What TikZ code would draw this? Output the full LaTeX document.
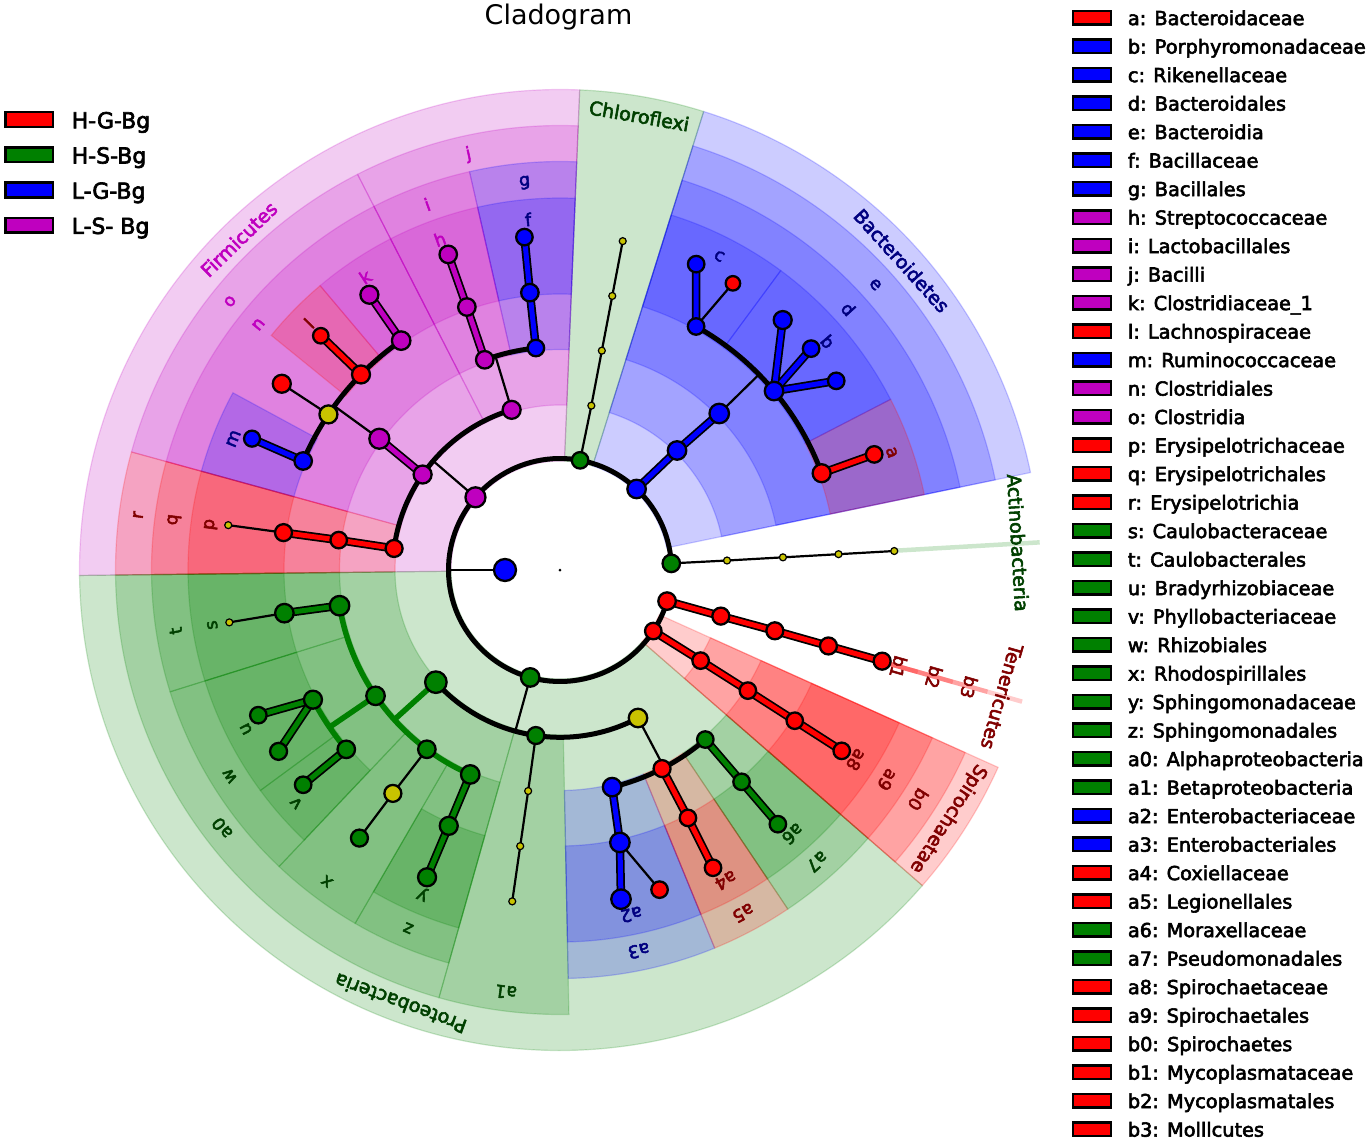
\documentclass[tikz,border=0pt]{standalone}
\usepackage{fontspec}
\setmainfont{DejaVu Sans}
\newfontfamily\fbf{DejaVu Sans}[FakeBold=3]
\definecolor{cR}{RGB}{255,0,0}
\definecolor{cG}{RGB}{0,128,0}
\definecolor{cB}{RGB}{0,0,255}
\definecolor{cM}{RGB}{191,0,191}
\definecolor{cY}{RGB}{200,195,0}
\definecolor{lR}{RGB}{128,0,0}
\definecolor{lG}{RGB}{0,64,0}
\definecolor{lB}{RGB}{0,0,128}
\definecolor{lM}{RGB}{191,0,191}
\pgfdeclarelayer{wedges}
\pgfdeclarelayer{edges}
\pgfsetlayers{wedges,edges,main}
% wedge: color, angle1, angle2, rin, rout
\newcommand{\wdg}[5]{\path[fill=#1, fill opacity=0.2, draw=#1, draw opacity=0.2, line width=1.2pt] (#2:#4pt) arc[start angle=#2, end angle=#3, radius=#4pt] -- (#3:#5pt) arc[start angle=#3, end angle=#2, radius=#5pt] -- cycle;}
\newcommand{\stripX}[4]{\draw[draw=#1, draw opacity=0.2, line width=4.5pt] (#2:#3pt) -- (#2:#4pt);}
% tree node: name, angle, radius, colour, size
\newcommand{\mkN}[5]{\node[nd=#4, minimum size=#5pt] (#1) at (#2:#3pt) {};}
\newcommand{\mkY}[3]{\node[ydot] (#1) at (#2:#3pt) {};}
% label: name, angle, radius, colour, text
\newcommand{\lbl}[5]{\node[lab=#4, rotate=#2-90] (#1) at (#2:#3pt) {#5};}
\newcommand{\phl}[5]{\node[phy=#4, rotate=#2-90] (#1) at (#2:#3pt) {#5};}
\begin{document}
\begin{tikzpicture}[x=1pt,y=1pt,
  nd/.style={circle, draw=black, line width=2.3pt, inner sep=0pt, fill=#1, minimum size=17pt},
  ydot/.style={circle, draw=black, line width=1.2pt, inner sep=0pt, fill=cY, minimum size=7pt},
  thinE/.style={draw=black, line width=2.2pt},
  arcE/.style={draw=black, line width=5pt},
  outE/.style={draw=black, line width=8.5pt},
  inE/.style={draw=#1, line width=5pt},
  garc/.style={draw=cG, line width=5.5pt},
  lab/.style={text=#1, font=\fbf\fontsize{17.5}{20}\selectfont, inner sep=0pt},
  phy/.style={text=#1, font=\fbf\fontsize{19}{22}\selectfont, inner sep=0pt},
  patch/.style={draw=black, line width=2.5pt, fill=#1, inner sep=0pt}
]
\useasboundingbox (-560,-571) rectangle (808,570);

%================ shaded wedges
\begin{pgfonlayer}{wedges}
% phylum level
\wdg{cB}{11.7}{72.6}{109}{480.5}
\wdg{cG}{72.6}{87.65}{109}{480.5}
\wdg{cM}{87.65}{180.65}{109}{480.5}
\wdg{cG}{180.65}{318.95}{109}{480.5}
\wdg{cR}{318.95}{335.75}{109}{480.5}
% class level
\wdg{cB}{11.7}{72.6}{165}{444.5}
\wdg{cM}{87.65}{117.1}{165}{444.5}
\wdg{cM}{117.1}{164.6}{165}{444.5}
\wdg{cR}{164.6}{180.65}{165}{444.5}
\wdg{cG}{180.65}{254.2}{165}{444.5}
\wdg{cG}{254.2}{271.15}{165}{444.5}
\wdg{cR}{318.95}{335.75}{165}{444.5}
% order level
\wdg{cB}{11.7}{72.6}{220.5}{408.5}
\wdg{cB}{87.65}{102.8}{220.5}{408.5}
\wdg{cM}{102.8}{117.1}{220.5}{408.5}
\wdg{cM}{117.1}{164.6}{220.5}{408.5}
\wdg{cR}{164.6}{180.65}{220.5}{408.5}
\wdg{cG}{180.65}{197.35}{220.5}{408.5}
\wdg{cG}{197.35}{226.55}{220.5}{408.5}
\wdg{cG}{226.55}{239.9}{220.5}{408.5}
\wdg{cG}{239.9}{254.2}{220.5}{408.5}
\wdg{cB}{271.15}{292.25}{220.5}{408.5}
\wdg{cR}{292.25}{303.9}{220.5}{408.5}
\wdg{cG}{303.9}{318.95}{220.5}{408.5}
\wdg{cR}{318.95}{335.75}{220.5}{408.5}
% family level
\wdg{cR}{11.7}{27.3}{276}{372}
\wdg{cB}{27.3}{53.6}{276}{372}
\wdg{cB}{53.6}{72.6}{276}{372}
\wdg{cB}{87.65}{102.8}{276}{372}
\wdg{cM}{102.8}{117.1}{276}{372}
\wdg{cM}{117.1}{130.15}{276}{372}
\wdg{cR}{130.15}{140.9}{276}{372}
\wdg{cB}{151.55}{164.6}{276}{372}
\wdg{cR}{164.6}{180.65}{276}{372}
\wdg{cG}{180.65}{197.35}{276}{372}
\wdg{cG}{197.35}{216.35}{276}{372}
\wdg{cG}{216.35}{226.55}{276}{372}
\wdg{cG}{239.9}{254.2}{276}{372}
\wdg{cB}{271.15}{292.25}{276}{372}
\wdg{cR}{292.25}{303.9}{276}{372}
\wdg{cG}{303.9}{318.95}{276}{372}
\wdg{cR}{318.95}{335.75}{276}{372}
% degenerate end clades
\stripX{cG}{3.3}{335}{480.5}
\stripX{cR}{344.1}{340}{480.5}
\stripX{cR}{344.1}{340}{444.5}
\stripX{cR}{344.1}{340}{408.5}
\stripX{cR}{344.1}{340}{372}
\end{pgfonlayer}

%================ tree nodes
\node[circle, fill=black, inner sep=0pt, minimum size=3pt] (root) at (0,0) {};
\mkN{K}{180}{55}{cB}{22}
% phyla
\mkN{PAct}{3.4}{111.5}{cG}{17.5}
\mkN{PBac}{46.6}{111.5}{cB}{18.5}
\mkN{PChl}{79.6}{111.5}{cG}{16.5}
\mkN{PFir}{139.3}{111.5}{cM}{20}
\mkN{PPro}{254.5}{111.5}{cG}{18.5}
\mkN{PSpi}{326.8}{111.5}{cR}{16.5}
\mkN{PTen}{343.8}{111.5}{cR}{17.5}
% Actinobacteria / Chloroflexi chains
\mkY{NA3}{3.25}{167.3}\mkY{NA4}{3.25}{223.3}\mkY{NA5}{3.25}{279}\mkY{NA6}{3.25}{334.8}
\mkY{NC3}{79.2}{167.3}\mkY{NC4}{79.2}{223.3}\mkY{NC5}{79.2}{279}\mkY{NC6}{79.2}{334.8}
% Bacteroidetes
\mkN{Ne}{45.6}{167.3}{cB}{18.5}
\mkN{Nd}{44.5}{223.3}{cB}{19.5}
\mkN{Nc}{60.8}{279}{cB}{16.5}
\mkN{Ncg1}{66.0}{334.8}{cB}{16.5}
\mkN{Ncg2}{58.9}{334.8}{cR}{14.5}
\mkN{Nb}{39.9}{279}{cB}{18.5}
\mkN{Nbg1}{48.3}{334.8}{cB}{18}
\mkN{Nbg2}{41.4}{334.8}{cB}{16.5}
\mkN{Nbg3}{34.4}{334.8}{cB}{16.5}
\mkN{Na}{20.3}{279}{cR}{18}
\mkN{Nag}{20.2}{334.8}{cR}{16.5}
% Firmicutes
\mkN{Nj}{106.8}{167.3}{cM}{18}
\mkN{No}{145.2}{167.3}{cM}{18}
\mkN{Nr}{172.6}{167.3}{cR}{17}
\mkN{Ni}{109.7}{223.3}{cM}{17.5}
\mkN{Ng}{96.2}{223.3}{cB}{16.5}
\mkN{Nh}{109.5}{279}{cM}{17.5}
\mkN{Nhg}{109.5}{334.8}{cM}{17.5}
\mkN{Nf}{96.2}{279}{cB}{17.5}
\mkN{Nfg}{96.1}{334.8}{cB}{16.5}
\mkN{Nn}{144}{223.3}{cM}{20}
\mkN{Nm}{157}{279}{cB}{17.5}
\mkN{Nmg}{156.9}{334.8}{cB}{16}
\mkN{NyF}{146.1}{279}{cY}{18}
\mkN{NyFg}{146.2}{334.8}{cR}{18}
\mkN{Nl}{135.5}{279}{cR}{18}
\mkN{Nlg}{135.6}{334.8}{cR}{15.5}
\mkN{Nk}{124.7}{279}{cM}{18.5}
\mkN{Nkg}{124.7}{334.8}{cM}{18}
\mkN{Nq}{172.3}{223.3}{cR}{16.5}
\mkN{Np}{172.3}{279}{cR}{17}
\mkY{Npg}{172.3}{334.8}
% Proteobacteria
\mkN{Na0}{222.1}{167.3}{cG}{21.5}
\mkN{Na1}{261.7}{167.3}{cG}{17}
\mkN{NGam}{297.8}{167.3}{cY}{18.5}
\mkN{Nt}{189.2}{223.3}{cG}{19.5}
\mkN{Ns}{188.9}{279}{cG}{18.5}
\mkY{Nsg}{189}{334.8}
\mkN{Nw}{214.3}{223.3}{cG}{18.5}
\mkN{Nu}{207.7}{279}{cG}{18}
\mkN{Nug1}{205.7}{334.8}{cG}{16.5}
\mkN{Nug2}{212.8}{334.8}{cG}{17}
\mkN{Nv}{220}{279}{cG}{17.5}
\mkN{Nvg}{219.9}{334.8}{cG}{16.5}
\mkN{Nx}{233.4}{223.3}{cG}{17.5}
\mkN{NxF}{233.2}{279}{cY}{17}
\mkN{Nxg}{233.2}{334.8}{cG}{17}
\mkN{Nz}{246.3}{223.3}{cG}{18.5}
\mkN{Ny}{246.5}{279}{cG}{18}
\mkN{Nyg}{246.6}{334.8}{cG}{18}
\mkY{NB4}{261.8}{223.3}\mkY{NB5}{261.8}{279}\mkY{NB6}{261.8}{334.8}
\mkN{Na3}{283.5}{223.3}{cB}{18.5}
\mkN{Na2}{282.4}{279}{cB}{19.5}
\mkN{Na2g1}{280.5}{334.8}{cB}{19.5}
\mkN{Na2g2}{287.3}{334.8}{cR}{16.5}
\mkN{Na5}{297.2}{223.3}{cR}{17}
\mkN{Na4}{297.3}{279}{cR}{16.5}
\mkN{Na4g}{297.2}{334.8}{cR}{16.5}
\mkN{Na7}{310.6}{223.3}{cG}{16.5}
\mkN{Na6}{310.6}{279}{cG}{16.5}
\mkN{Na6g}{310.6}{334.8}{cG}{16.5}
% Spirochaetae
\mkN{Nb0}{327.2}{167.3}{cR}{16.5}
\mkN{Na9}{327.3}{223.3}{cR}{16.5}
\mkN{Na8}{327.3}{279}{cR}{16.5}
\mkN{Na8g}{327.3}{334.8}{cR}{16.5}
% Tenericutes
\mkN{Nb3}{344.0}{167.3}{cR}{17}
\mkN{Nb2}{344.2}{223.3}{cR}{17}
\mkN{Nb1}{344.2}{279}{cR}{17}
\mkN{Nb1g}{344.2}{334.8}{cR}{17}

%================ connectors
\begin{pgfonlayer}{edges}
% kingdom and phylum ring
\draw[thinE] (K.center) -- (180:111.5pt);
\draw[arcE] (PAct.center) arc[start angle=3.4, end angle=343.8, radius=111.5pt];
% radial + arc groups
\draw[thinE] (Nd.center) -- (44.5:279pt);
\draw[arcE] (Na.center) arc[start angle=20.3, end angle=60.8, radius=279pt];
\draw[thinE] (PFir.center) -- (139.3:167.3pt);
\draw[arcE] (Nj.center) arc[start angle=106.8, end angle=172.6, radius=167.3pt];
\draw[thinE] (Nj.center) -- (106.8:223.3pt);
\draw[arcE] (Ng.center) arc[start angle=96.2, end angle=109.7, radius=223.3pt];
\draw[thinE] (Nn.center) -- (144:279pt);
\draw[arcE] (Nk.center) arc[start angle=124.7, end angle=157, radius=279pt];
\draw[thinE] (PPro.center) -- (254.5:167.3pt);
\draw[arcE] (Na0.center) arc[start angle=222.1, end angle=297.8, radius=167.3pt];
\draw[garc] (Na0.center) -- (222.1:223.3pt);
\draw[garc] (Nt.center) arc[start angle=189.2, end angle=246.3, radius=223.3pt];
\draw[garc] (Nw.center) -- (214.3:279pt);
\draw[garc] (Nu.center) arc[start angle=207.7, end angle=220, radius=279pt];
\draw[thinE] (NGam.center) -- (297.8:223.3pt);
\draw[arcE] (Na3.center) arc[start angle=283.5, end angle=310.6, radius=223.3pt];
% thin black connectors
\foreach \u/\v in {PAct/NA3, NA3/NA4, NA4/NA5, NA5/NA6, PChl/NC3, NC3/NC4, NC4/NC5, NC5/NC6,
  Nc/Ncg2, NyF/NyFg, Np/Npg, Ns/Nsg, Nx/NxF, NxF/Nxg, Na1/NB4, NB4/NB5, NB5/NB6, Na2/Na2g2}
  {\draw[thinE] (\u.center) -- (\v.center);}
% thick coloured connectors (outline first, then colour)
\foreach \c/\u/\v in {cB/PBac/Ne, cB/Ne/Nd, cB/Nc/Ncg1, cB/Nb/Nbg1, cB/Nb/Nbg2, cB/Nb/Nbg3, cR/Na/Nag,
  cM/Ni/Nh, cM/Nh/Nhg, cB/Ng/Nf, cB/Nf/Nfg, cM/No/Nn, cB/Nm/Nmg, cR/Nl/Nlg, cM/Nk/Nkg, cR/Nr/Nq, cR/Nq/Np,
  cG/Nt/Ns, cG/Nu/Nug1, cG/Nu/Nug2, cG/Nv/Nvg, cG/Nz/Ny, cG/Ny/Nyg,
  cB/Na3/Na2, cB/Na2/Na2g1, cR/Na5/Na4, cR/Na4/Na4g, cG/Na7/Na6, cG/Na6/Na6g,
  cR/PSpi/Nb0, cR/Nb0/Na9, cR/Na9/Na8, cR/Na8/Na8g, cR/PTen/Nb3, cR/Nb3/Nb2, cR/Nb2/Nb1, cR/Nb1/Nb1g}
  {\draw[outE] (\u.center) -- (\v.center);}
\foreach \c/\u/\v in {cB/PBac/Ne, cB/Ne/Nd, cB/Nc/Ncg1, cB/Nb/Nbg1, cB/Nb/Nbg2, cB/Nb/Nbg3, cR/Na/Nag,
  cM/Ni/Nh, cM/Nh/Nhg, cB/Ng/Nf, cB/Nf/Nfg, cM/No/Nn, cB/Nm/Nmg, cR/Nl/Nlg, cM/Nk/Nkg, cR/Nr/Nq, cR/Nq/Np,
  cG/Nt/Ns, cG/Nu/Nug1, cG/Nu/Nug2, cG/Nv/Nvg, cG/Nz/Ny, cG/Ny/Nyg,
  cB/Na3/Na2, cB/Na2/Na2g1, cR/Na5/Na4, cR/Na4/Na4g, cG/Na7/Na6, cG/Na6/Na6g,
  cR/PSpi/Nb0, cR/Nb0/Na9, cR/Na9/Na8, cR/Na8/Na8g, cR/PTen/Nb3, cR/Nb3/Nb2, cR/Nb2/Nb1, cR/Nb1/Nb1g}
  {\draw[inE=\c] (\u.center) -- (\v.center);}
\end{pgfonlayer}

%================ clade labels
% family ring
\lbl{La}{19.5}{352}{lR}{a}
\lbl{Lb}{40.45}{352}{lB}{b}
\lbl{Lc}{63.1}{352}{lB}{c}
\lbl{Lf}{95.2}{352}{lB}{f}
\lbl{Lh}{109.95}{352}{lM}{h}
\lbl{Lk}{123.6}{352}{lM}{k}
\lbl{Ll}{135.5}{352}{lR}{l}
\lbl{Lm}{158.1}{352}{lB}{m}
\lbl{Lp}{172.6}{352}{lR}{p}
\lbl{Ls}{189}{352}{lG}{s}
\lbl{Lu}{206.85}{352}{lG}{u}
\lbl{Lv}{221.45}{352}{lG}{v}
\lbl{Ly}{247.05}{352}{lG}{y}
\lbl{La2}{281.7}{352}{lB}{a2}
\lbl{La4}{298.1}{352}{lR}{a4}
\lbl{La6}{311.4}{352}{lG}{a6}
\lbl{La8}{327.35}{352}{lR}{a8}
\lbl{Lb1}{344.0}{352}{lR}{b1}
% order ring
\lbl{Ld}{42.15}{389}{lB}{d}
\lbl{Lg}{95.2}{389}{lB}{g}
\lbl{Li}{109.95}{389}{lM}{i}
\lbl{Ln}{140.85}{389}{lM}{n}
\lbl{Lq}{172.6}{389}{lR}{q}
\lbl{Lt}{189}{389}{lG}{t}
\lbl{Lw}{211.95}{389}{lG}{w}
\lbl{Lx}{233.2}{389}{lG}{x}
\lbl{Lz}{247.05}{389}{lG}{z}
\lbl{La3}{281.7}{389}{lB}{a3}
\lbl{La5}{298.1}{389}{lR}{a5}
\lbl{La7}{311.4}{389}{lG}{a7}
\lbl{La9}{327.35}{389}{lR}{a9}
\lbl{Lb2}{344.0}{389}{lR}{b2}
% class ring
\lbl{Le}{42.15}{425.5}{lB}{e}
\lbl{Lj}{102.4}{425.5}{lM}{j}
\lbl{Lo}{140.85}{425.5}{lM}{o}
\lbl{Lr}{172.6}{425.5}{lR}{r}
\lbl{La0}{217.4}{425.5}{lG}{a0}
\lbl{La1}{262.7}{425.5}{lG}{a1}
\lbl{Lb0}{327.35}{425.5}{lR}{b0}
\lbl{Lb3}{344.0}{425.5}{lR}{b3}
% phylum ring
\phl{PLAct}{3.4}{459}{lG}{Actinobacteria}
\phl{PLBac}{42.15}{461}{lB}{Bacteroidetes}
\phl{PLChl}{80.1}{461}{lG}{Chloroflexi}
\phl{PLFir}{134.15}{461}{lM}{Firmicutes}
\phl{PLPro}{249.8}{462}{lG}{Proteobacteria}
\phl{PLSpi}{327.35}{461}{lR}{Spirochaetae}
\phl{PLTen}{344.0}{460}{lR}{Tenericutes}

%================ title
\node[anchor=base, font=\fontsize{27}{32}\selectfont, inner sep=0pt] (title) at (-1.5,545) {Cladogram};

%================ class legend (left)
\foreach \i/\c/\t in {0/cR/H-G-Bg, 1/cG/H-S-Bg, 2/cB/L-G-Bg, 3/cM/L-S- Bg}{
  \node[patch=\c, minimum width=47.5pt, minimum height=14.8pt] (LLp\i) at (-530.5,{450.35-35.2*\i}) {};
  \node[anchor=base west, font=\fbf\fontsize{22}{26}\selectfont, inner sep=0pt] (LLt\i) at (-488.5,{441.7-35.2*\i}) {\t};
}

%================ clade legend (right)
\foreach \i/\c/\t in {0/cR/{a: Bacteroidaceae}, 1/cB/{b: Porphyromonadaceae}, 2/cB/{c: Rikenellaceae},
  3/cB/{d: Bacteroidales}, 4/cB/{e: Bacteroidia}, 5/cB/{f: Bacillaceae}, 6/cB/{g: Bacillales},
  7/cM/{h: Streptococcaceae}, 8/cM/{i: Lactobacillales}, 9/cM/{j: Bacilli}, 10/cM/{k: Clostridiaceae\_1},
  11/cR/{l: Lachnospiraceae}, 12/cB/{m: Ruminococcaceae}, 13/cM/{n: Clostridiales}, 14/cM/{o: Clostridia},
  15/cR/{p: Erysipelotrichaceae}, 16/cR/{q: Erysipelotrichales}, 17/cR/{r: Erysipelotrichia},
  18/cG/{s: Caulobacteraceae}, 19/cG/{t: Caulobacterales}, 20/cG/{u: Bradyrhizobiaceae},
  21/cG/{v: Phyllobacteriaceae}, 22/cG/{w: Rhizobiales}, 23/cG/{x: Rhodospirillales},
  24/cG/{y: Sphingomonadaceae}, 25/cG/{z: Sphingomonadales}, 26/cG/{a0: Alphaproteobacteria},
  27/cG/{a1: Betaproteobacteria}, 28/cB/{a2: Enterobacteriaceae}, 29/cB/{a3: Enterobacteriales},
  30/cR/{a4: Coxiellaceae}, 31/cR/{a5: Legionellales}, 32/cG/{a6: Moraxellaceae},
  33/cG/{a7: Pseudomonadales}, 34/cR/{a8: Spirochaetaceae}, 35/cR/{a9: Spirochaetales},
  36/cR/{b0: Spirochaetes}, 37/cR/{b1: Mycoplasmataceae}, 38/cR/{b2: Mycoplasmatales}, 39/cR/{b3: Molllcutes}}{
  \node[patch=\c, minimum width=38pt, minimum height=13.5pt] (RLp\i) at (532,{552.3-28.5*\i}) {};
  \node[anchor=base west, font=\fbf\fontsize{19.3}{23}\selectfont, inner sep=0pt] (RLt\i) at (567.7,{544.9-28.5*\i}) {\t};
}
\end{tikzpicture}
\end{document}
